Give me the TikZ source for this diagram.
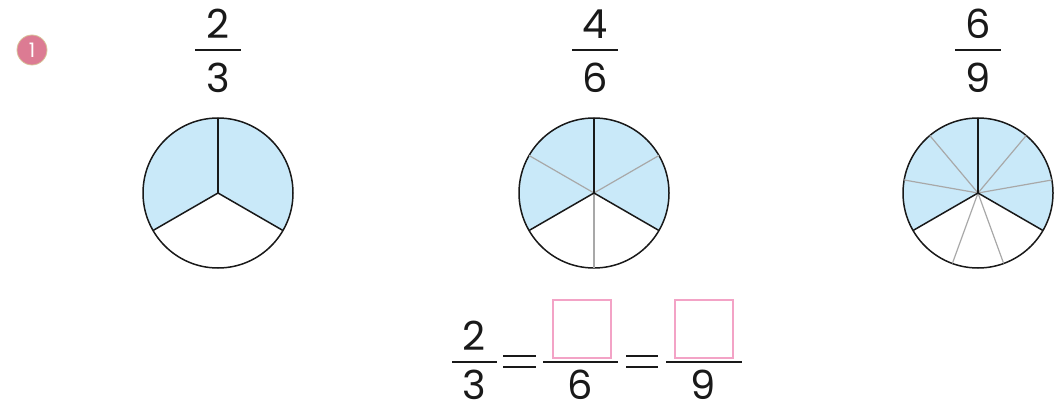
\documentclass[tikz,border=0pt]{standalone}
\usepackage{fontspec}
\setmainfont{Poppins}
\definecolor{pieblue}{HTML}{C9E9F9}
\definecolor{piegray}{HTML}{A8A8A8}
\definecolor{boxpink}{HTML}{F3A3C6}
\definecolor{badge}{HTML}{DC7B93}
\definecolor{badgeedge}{HTML}{D8C49A}
\tikzset{
  digit/.style={inner sep=0pt, font=\fontsize{40}{40}\selectfont, text=black!90},
  fracbar/.style={line width=2pt, black!90},
  rim/.style={line width=1.5pt, black!90},
  major/.style={line width=1.5pt, black!90},
  minor/.style={line width=1.2pt, piegray},
  ansbox/.style={draw=boxpink, line width=2pt, minimum width=58pt, minimum height=58pt, inner sep=0pt},
}
\begin{document}
\begin{tikzpicture}[x=1pt,y=-1pt]
\useasboundingbox (0,0) rectangle (1054,409);
% badge
\node[circle, fill=badge, draw=badgeedge, line width=0.8pt, minimum size=30pt, inner sep=0pt,
      text=white, font=\fontsize{20}{20}\selectfont] (badge) at (32,50) {1};

% top fractions
\foreach \nm/\cx/\n/\d in {fa/218/2/3, fb/595/4/6, fc/978/6/9}{
  \node[digit] (\nm n) at (\cx,24) {\n};
  \node[digit] (\nm d) at (\cx,78) {\d};
  \coordinate (\nm l) at (\cx-23,50);
  \coordinate (\nm r) at (\cx+23,50);
  \draw[fracbar] (\nm l) -- (\nm r);
}

% pie 1
\coordinate (p1) at (218,193);
\fill[pieblue] (p1) -- ++({cos(-30)*75},{-sin(-30)*75}) arc[start angle=30, end angle=-210, radius=75] -- cycle;
\draw[rim] (p1) circle[radius=75];
\foreach \a in {90,210,330}{\draw[major] (p1) -- ++({cos(\a)*75},{-sin(\a)*75});}

% pie 2
\coordinate (p2) at (594,193);
\fill[pieblue] (p2) -- ++({cos(-30)*75},{-sin(-30)*75}) arc[start angle=30, end angle=-210, radius=75] -- cycle;
\draw[rim] (p2) circle[radius=75];
\foreach \a in {30,150,270}{\draw[minor] (p2) -- ++({cos(\a)*75},{-sin(\a)*75});}
\foreach \a in {90,210,330}{\draw[major] (p2) -- ++({cos(\a)*75},{-sin(\a)*75});}

% pie 3
\coordinate (p3) at (978,193);
\fill[pieblue] (p3) -- ++({cos(-30)*75},{-sin(-30)*75}) arc[start angle=30, end angle=-210, radius=75] -- cycle;
\draw[rim] (p3) circle[radius=75];
\foreach \a in {10,50,130,170,250,290}{\draw[minor] (p3) -- ++({cos(\a)*75},{-sin(\a)*75});}
\foreach \a in {90,210,330}{\draw[major] (p3) -- ++({cos(\a)*75},{-sin(\a)*75});}

% equation
\node[digit] (en) at (474,336) {2};
\node[digit] (ed) at (474,385) {3};
\draw[fracbar] (452,362) -- (497,362);
\draw[line width=2.3pt, black!90] (503,356) -- (536,356) (503,367) -- (536,367);
\node[ansbox] (box1) at (581.5,328.5) {};
\draw[fracbar] (543,362) -- (618,362);
\node[digit] (e6) at (580,385) {6};
\draw[line width=2.3pt, black!90] (626,356) -- (658,356) (626,367) -- (658,367);
\node[ansbox] (box2) at (703.5,328.5) {};
\draw[fracbar] (666,362) -- (742,362);
\node[digit] (e9) at (703,385) {9};
\end{tikzpicture}
\end{document}
